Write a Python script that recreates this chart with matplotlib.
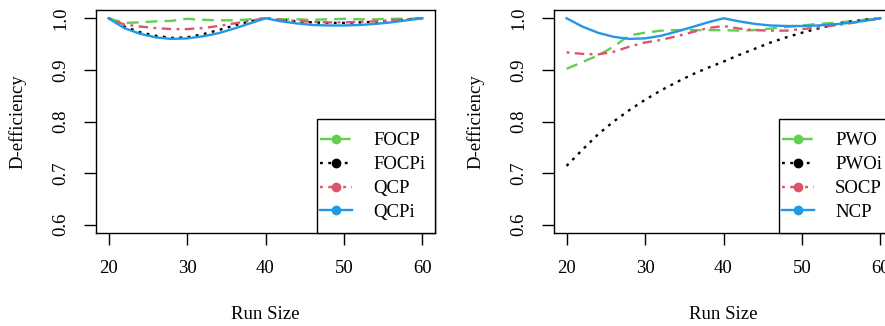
import matplotlib
matplotlib.use("Agg")
import matplotlib.pyplot as plt
from matplotlib.patches import Rectangle

plt.rcParams['font.family'] = ['Liberation Serif', 'DejaVu Serif']

# run sizes
run_size = [20, 22, 24, 26, 28, 30, 32, 34, 36, 38, 40, 42, 44, 46, 48, 50, 52, 54, 56, 58, 60]

# left panel
focp = [1.0, 0.991, 0.992, 0.994, 0.995, 0.999, 0.997, 0.996, 0.996, 0.998, 1.0,
        0.998, 0.998, 0.997, 0.998, 0.999, 0.998, 0.998, 0.999, 0.999, 1.0]
focpi = [1.0, 0.984, 0.973, 0.966, 0.962, 0.963, 0.969, 0.977, 0.986, 0.994, 1.0,
         0.996, 0.994, 0.992, 0.991, 0.991, 0.992, 0.993, 0.995, 0.997, 1.0]
qcp = [1.0, 0.988, 0.984, 0.981, 0.979, 0.979, 0.981, 0.985, 0.990, 0.995, 1.0,
       0.997, 0.995, 0.993, 0.992, 0.992, 0.993, 0.994, 0.996, 0.998, 1.0]
qcpi = [1.0, 0.981, 0.970, 0.963, 0.960, 0.961, 0.965, 0.971, 0.980, 0.990, 1.0,
        0.994, 0.990, 0.987, 0.986, 0.986, 0.987, 0.989, 0.992, 0.996, 1.0]

# right panel
pwo = [0.902, 0.915, 0.928, 0.945, 0.967, 0.972, 0.976, 0.977, 0.977, 0.977, 0.977,
       0.976, 0.977, 0.980, 0.983, 0.986, 0.989, 0.991, 0.994, 0.997, 1.0]
pwoi = [0.714, 0.745, 0.775, 0.800, 0.822, 0.842, 0.860, 0.876, 0.891, 0.904, 0.916,
        0.929, 0.941, 0.953, 0.963, 0.972, 0.980, 0.987, 0.993, 0.997, 1.0]
socp = [0.934, 0.931, 0.930, 0.935, 0.945, 0.953, 0.958, 0.965, 0.973, 0.981, 0.985,
        0.980, 0.977, 0.976, 0.976, 0.979, 0.982, 0.986, 0.990, 0.995, 1.0]
ncp = [1.0, 0.984, 0.972, 0.964, 0.960, 0.961, 0.966, 0.974, 0.983, 0.992, 1.0,
       0.994, 0.989, 0.986, 0.985, 0.985, 0.986, 0.988, 0.991, 0.995, 1.0]

green, red, blue = "#61D04F", "#DF536B", "#2297E6"
styles = [
    (green, (0, (5, 3))),
    ("black", (0, (1.2, 2.3))),
    (red, (0, (1.2, 2.3, 4, 2.3))),
    (blue, "-"),
]

fig = plt.figure(figsize=(8.85, 3.26), dpi=100)
ax1 = fig.add_axes([96 / 885, 1 - 233 / 326, 339 / 885, 223 / 326])
ax2 = fig.add_axes([554 / 885, 1 - 233 / 326, 339 / 885, 223 / 326])

# legend box left edge (axes fraction) for each panel
panels = [
    (ax1, [focp, focpi, qcp, qcpi], ["FOCP", "FOCPi", "QCP", "QCPi"], 0.652),
    (ax2, [pwo, pwoi, socp, ncp], ["PWO", "PWOi", "SOCP", "NCP"], 0.664),
]

fs = 13.5
lw = 1.7
for ax, series, names, lx in panels:
    for (col, ls), ys, nm in zip(styles, series, names):
        ax.plot(run_size, ys, color=col, linestyle=ls, linewidth=lw, label=nm)
    ax.set_xlim(18.4, 61.6)
    ax.set_ylim(0.584, 1.016)
    ax.set_xticks([20, 30, 40, 50, 60])
    ax.set_yticks([0.6, 0.7, 0.8, 0.9, 1.0])
    ax.set_yticklabels(["0.6", "0.7", "0.8", "0.9", "1.0"], rotation=90, va="center")
    ax.tick_params(axis="x", length=8.5, width=1, pad=11, labelsize=fs)
    ax.tick_params(axis="y", length=8.5, width=1, pad=11, labelsize=fs)
    for sp in ax.spines.values():
        sp.set_linewidth(1.0)
    ax.set_xlabel("Run Size", fontsize=fs, labelpad=21)
    ax.set_ylabel("D-efficiency", fontsize=fs, labelpad=18)

    # legend frame like R's legend box
    ax.add_patch(Rectangle((lx, 0), 1 - lx, 0.511, transform=ax.transAxes,
                           facecolor="white", edgecolor="black", linewidth=1.0,
                           zorder=4, clip_on=False))
    handles = []
    for (col, ls), nm in zip(styles, names):
        h, = ax.plot([], [], color=col, linestyle=ls, linewidth=lw,
                     marker="o", markersize=6, label=nm)
        handles.append(h)
    leg = ax.legend(handles=handles, loc="center left",
                    bbox_to_anchor=(lx + 0.008, 0.253), borderaxespad=0,
                    fontsize=fs, frameon=False, handlelength=1.7,
                    handletextpad=1.15, labelspacing=0.36, borderpad=0)
    leg.set_zorder(5)

fig.savefig("out.png", dpi=100)
